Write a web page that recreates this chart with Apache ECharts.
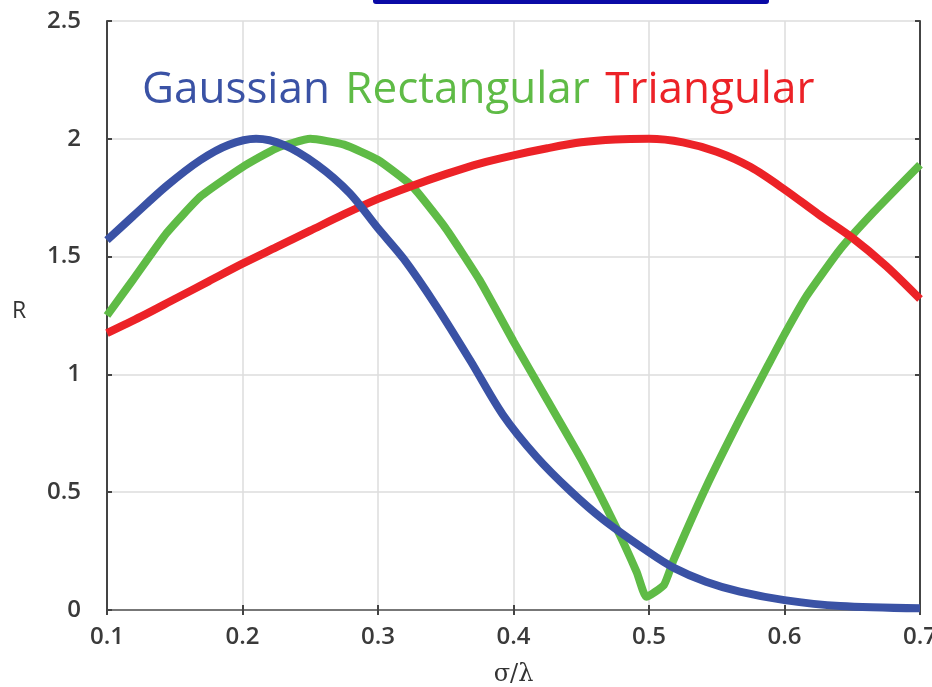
<!DOCTYPE html>
<html>
<head>
<meta charset="utf-8">
<script src="https://cdn.jsdelivr.net/npm/echarts@6/dist/echarts.min.js"></script>
<style>
html,body{margin:0;padding:0;background:#fff;}
#chart{width:932px;height:687px;}
</style>
</head>
<body>
<div id="chart"></div>
<script>
// ---- data ----
const xTicks = [0.1, 0.2, 0.3, 0.4, 0.5, 0.6, 0.7];
const yTicks = [0, 0.5, 1, 1.5, 2, 2.5];

const gaussX = [0.1, 0.119, 0.144, 0.169, 0.19, 0.21, 0.23, 0.255, 0.279, 0.3, 0.319, 0.343, 0.368, 0.392, 0.417, 0.442, 0.466, 0.5, 0.518, 0.542, 0.567, 0.6, 0.641, 0.7];
const gaussY = [1.57, 1.67, 1.80, 1.91, 1.975, 2.0, 1.975, 1.89, 1.77, 1.62, 1.49, 1.29, 1.06, 0.83, 0.65, 0.505, 0.385, 0.245, 0.18, 0.12, 0.078, 0.042, 0.017, 0.007];

const rectX = [0.1, 0.119, 0.144, 0.169, 0.2, 0.225, 0.25, 0.275, 0.3, 0.325, 0.35, 0.375, 0.4, 0.425, 0.45, 0.475, 0.491, 0.498, 0.511, 0.518, 0.542, 0.567, 0.588, 0.6, 0.616, 0.641, 0.666, 0.7];
const rectY = [1.25, 1.40, 1.60, 1.755, 1.88, 1.96, 2.0, 1.975, 1.91, 1.80, 1.62, 1.40, 1.14, 0.89, 0.64, 0.36, 0.16, 0.056, 0.106, 0.21, 0.52, 0.81, 1.04, 1.17, 1.33, 1.53, 1.69, 1.89];

const triX = [0.1, 0.125, 0.15, 0.175, 0.2, 0.225, 0.25, 0.275, 0.3, 0.325, 0.35, 0.375, 0.4, 0.425, 0.45, 0.475, 0.5, 0.525, 0.55, 0.575, 0.6, 0.625, 0.65, 0.675, 0.7];
const triY = [1.175, 1.245, 1.32, 1.395, 1.47, 1.54, 1.61, 1.68, 1.745, 1.80, 1.85, 1.895, 1.93, 1.96, 1.985, 1.997, 2.0, 1.985, 1.945, 1.88, 1.785, 1.68, 1.58, 1.46, 1.32];

const seriesNames = ['Gaussian', 'Rectangular', 'Triangular'];
const xName = 'σ/λ';
const yName = 'R';

const pairs = (xs, ys) => xs.map((x, i) => [x, ys[i]]);

const C_BLUE = '#3a52a5', C_GREEN = '#5fbb46', C_RED = '#ec2227';
const axisCol = '#444';
const labelFont = {fontFamily: 'Open Sans', fontSize: 24, fontWeight: 600, color: '#3a3a3a'};
const titleRich = c => ({color: c, fontSize: 44, fontFamily: 'Open Sans', fontWeight: 'normal', padding: [0, 4, 0, 0]});

const chart = echarts.init(document.getElementById('chart'), null, {renderer: 'canvas'});
chart.setOption({
  backgroundColor: '#fff',
  animation: false,
  title: {
    text: '{g|' + seriesNames[0] + '} {r|' + seriesNames[1] + '} {t|' + seriesNames[2] + '}',
    left: 137, top: 63,
    textStyle: {
      fontWeight: 'normal', fontSize: 44, fontFamily: 'Open Sans',
      rich: {g: titleRich(C_BLUE), r: titleRich(C_GREEN), t: titleRich(C_RED)}
    }
  },
  graphic: [{
    type: 'rect',
    shape: {x: 373, y: -6, width: 396, height: 10, r: 3},
    style: {fill: '#0a0aa6'}
  }, {
    type: 'text', left: 12, top: 300,
    style: {text: yName, font: '23px "Open Sans"', fill: '#333'}
  }],
  grid: {left: 107, right: 12, top: 21, bottom: 77, show: false, outerBoundsMode: 'none', containLabel: false},
  xAxis: [{
    type: 'value', min: 0.1, max: 0.7, interval: 0.1,
    axisLine: {show: true, onZero: false, lineStyle: {color: axisCol, width: 2}},
    axisTick: {show: true, inside: true, length: 5, lineStyle: {color: axisCol, width: 2}},
    axisLabel: Object.assign({margin: 15, formatter: v => (Math.round(v * 10) / 10).toFixed(1)}, labelFont),
    splitLine: {show: true, lineStyle: {color: '#dcdcdc', width: 1.5}},
    name: xName, nameLocation: 'middle', nameGap: 53,
    nameTextStyle: {fontFamily: 'DejaVu Serif', fontSize: 24, color: '#333'}
  }, {
    type: 'value', position: 'top', min: 0.1, max: 0.7, interval: 0.1,
    axisLine: {show: true, lineStyle: {color: '#777', width: 2}},
    axisTick: {show: true, inside: true, length: 5, lineStyle: {color: axisCol, width: 2}},
    axisLabel: {show: false}, splitLine: {show: false}
  }],
  yAxis: [{
    type: 'value', min: 0, max: 2.5, interval: 0.5,
    axisLine: {show: true, onZero: false, lineStyle: {color: axisCol, width: 2}},
    axisTick: {show: true, inside: true, length: 5, lineStyle: {color: axisCol, width: 2}},
    axisLabel: Object.assign({margin: 26, formatter: v => String(Math.round(v * 10) / 10)}, labelFont),
    splitLine: {show: true, lineStyle: {color: '#dcdcdc', width: 1.5}}
  }, {
    type: 'value', position: 'right', min: 0, max: 2.5, interval: 0.5,
    axisLine: {show: true, lineStyle: {color: axisCol, width: 2}},
    axisTick: {show: true, inside: true, length: 5, lineStyle: {color: axisCol, width: 2}},
    axisLabel: {show: false}, splitLine: {show: false}
  }],
  series: [
    {name: seriesNames[1], type: 'line', data: pairs(rectX, rectY), smooth: 0.15, symbol: 'none',
     lineStyle: {color: C_GREEN, width: 8}, z: 2},
    {name: seriesNames[2], type: 'line', data: pairs(triX, triY), smooth: 0.3, symbol: 'none',
     lineStyle: {color: C_RED, width: 8}, z: 3},
    {name: seriesNames[0], type: 'line', data: pairs(gaussX, gaussY), smooth: 0.3, symbol: 'none',
     lineStyle: {color: C_BLUE, width: 8}, z: 4}
  ]
});
</script>
</body>
</html>
